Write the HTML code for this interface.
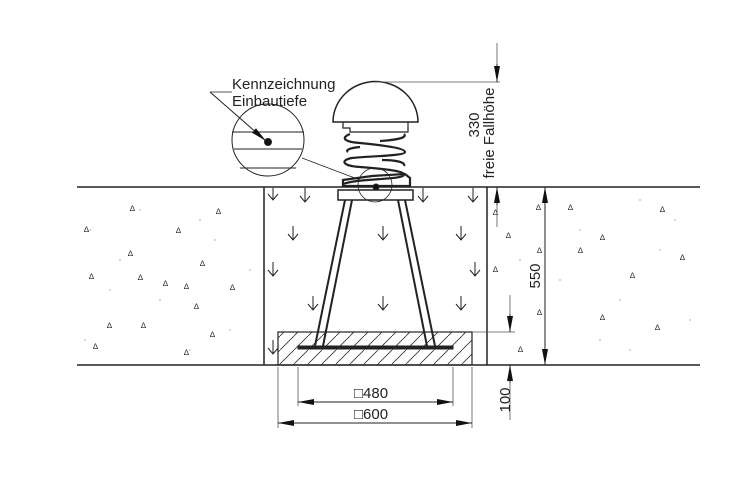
<!DOCTYPE html>
<html><head><style>body{margin:0;background:#fff}svg{display:block}text{font-family:"Liberation Sans",sans-serif;fill:#222}</style></head><body>
<svg width="750" height="479" viewBox="0 0 750 479" xmlns="http://www.w3.org/2000/svg">
<defs>
<marker id="a" viewBox="0 0 16 6" refX="16" refY="3" markerWidth="16" markerHeight="6" orient="auto-start-reverse" markerUnits="userSpaceOnUse"><path d="M0,0L16,3L0,6z" fill="#111"/></marker>
<pattern id="h" width="14" height="14" patternUnits="userSpaceOnUse"><path d="M0,14L14,0" stroke="#333" stroke-width="0.8"/></pattern>
</defs>
<g fill="#999">
<circle cx="90" cy="230" r=".7"/><circle cx="120" cy="260" r=".7"/><circle cx="160" cy="300" r=".7"/><circle cx="200" cy="220" r=".7"/><circle cx="230" cy="330" r=".7"/><circle cx="85" cy="340" r=".7"/><circle cx="140" cy="210" r=".7"/><circle cx="250" cy="270" r=".7"/><circle cx="580" cy="230" r=".7"/><circle cx="620" cy="300" r=".7"/><circle cx="660" cy="250" r=".7"/><circle cx="600" cy="340" r=".7"/><circle cx="520" cy="260" r=".7"/><circle cx="640" cy="200" r=".7"/><circle cx="690" cy="320" r=".7"/><circle cx="560" cy="280" r=".7"/><circle cx="110" cy="290" r=".7"/><circle cx="190" cy="350" r=".7"/><circle cx="215" cy="240" r=".7"/><circle cx="675" cy="220" r=".7"/><circle cx="630" cy="350" r=".7"/>
</g>
<g font-size="8" fill="#222">
<text x="84" y="232">∆</text><text x="130" y="211">∆</text><text x="128" y="256">∆</text><text x="176" y="233">∆</text><text x="216" y="214">∆</text><text x="200" y="266">∆</text><text x="89" y="279">∆</text><text x="138" y="280">∆</text><text x="163" y="286">∆</text><text x="184" y="289">∆</text><text x="230" y="290">∆</text><text x="107" y="328">∆</text><text x="141" y="328">∆</text><text x="194" y="309">∆</text><text x="210" y="337">∆</text><text x="93" y="349">∆</text><text x="184" y="355">∆</text><text x="493" y="215">∆</text><text x="506" y="238">∆</text><text x="493" y="272">∆</text><text x="536" y="210">∆</text><text x="537" y="253">∆</text><text x="537" y="315">∆</text><text x="518" y="352">∆</text><text x="568" y="210">∆</text><text x="600" y="320">∆</text><text x="630" y="278">∆</text><text x="660" y="212">∆</text><text x="655" y="330">∆</text><text x="578" y="253">∆</text><text x="600" y="240">∆</text><text x="680" y="260">∆</text>
</g>
<g stroke="#222" fill="none">
<line x1="77" y1="187" x2="700" y2="187" stroke-width="1.5"/>
<line x1="77" y1="365" x2="700" y2="365" stroke-width="1.5"/>
<line x1="264" y1="187" x2="264" y2="365" stroke-width="1.5"/>
<line x1="487" y1="187" x2="487" y2="365" stroke-width="1.5"/>
<rect x="278" y="332" width="194" height="33" fill="url(#h)" stroke-width="1.2"/>
<rect x="298" y="346" width="155" height="3" fill="#222"/>
<path d="M345,200L315,346M352,200L323,346M398,200L427,346M405,200L435,346" stroke-width="2"/>
<rect x="338" y="190" width="75" height="10" stroke-width="1.5"/>
<path d="M333,122A42,40 0 0 1 418,122Z" stroke-width="1.5"/>
<path d="M343,122V128H350V132H408V122" stroke-width="1.2"/>
<g stroke-width="2.2">
<path d="M350,134C340,138 345,142 360,143C380,145 405,148 405,152C405,156 370,156 352,158C340,160 342,166 360,167C385,169 405,171 404,175C402,180 360,178 343,184"/>
<path d="M404,134C408,138 395,140 380,141M348,152C345,150 350,148 360,147M404,166C406,162 395,160 382,160"/>
<path d="M343,186L343,180L372,176L405,174L410,178L410,186Z"/>
</g>
<circle cx="375" cy="185" r="17" stroke-width="0.8"/>
<circle cx="376" cy="187" r="3" fill="#111"/>
<circle cx="268" cy="140" r="36" stroke-width="1"/>
<path d="M232,132H304M234,149H302M240,168H296" stroke-width="1"/>
<circle cx="268" cy="142" r="3.5" fill="#111"/>
<path d="M210,92L266,141" stroke-width="1" marker-end="url(#a)"/>
<path d="M210,92H232" stroke-width="0.8"/>
<path d="M302,158L360,180" stroke-width="0.8"/>
<g stroke-width="1"><path d="M268,194l5,6l5,-6M273,188v12M268,270l5,6l5,-6M273,262v14M268,348l5,6l5,-6M273,340v14M288,234l5,6l5,-6M293,226v14M378,234l5,6l5,-6M383,226v14M456,234l5,6l5,-6M461,226v14M308,304l5,6l5,-6M313,296v14M378,304l5,6l5,-6M383,296v14M456,304l5,6l5,-6M461,296v14M418,196l5,6l5,-6M423,188v14M300,196l5,6l5,-6M305,188v14M468,196l5,6l5,-6M473,188v14M470,270l5,6l5,-6M475,262v14"/></g>
<g stroke-width="0.8" stroke="#555">
<path d="M375,82H500M497,43V82M497,187V227"/>
<path d="M472,332H515M510,295V332M510,365V420"/>
<path d="M278,367V428M472,367V428M298,367V406M453,367V406"/>
</g>
<g stroke-width="1">
<path d="M497,64V82" marker-end="url(#a)"/><path d="M497,205V187" marker-end="url(#a)"/>
<path d="M545,187V365" marker-start="url(#a)" marker-end="url(#a)"/>
<path d="M510,314V332" marker-end="url(#a)"/><path d="M510,383V365" marker-end="url(#a)"/>
<path d="M298,402H453" marker-start="url(#a)" marker-end="url(#a)"/>
<path d="M278,423H472" marker-start="url(#a)" marker-end="url(#a)"/>
</g>
</g>
<text x="232" y="89" font-size="15">Kennzeichnung</text>
<text x="232" y="106" font-size="15">Einbautiefe</text>
<text font-size="15" transform="translate(479,125) rotate(-90)" text-anchor="middle">330</text>
<text font-size="15" transform="translate(494,133) rotate(-90)" text-anchor="middle">freie Fallhöhe</text>
<text font-size="15" transform="translate(540,276) rotate(-90)" text-anchor="middle">550</text>
<text font-size="15" transform="translate(510,400) rotate(-90)" text-anchor="middle">100</text>
<text x="354" y="398" font-size="15">□480</text>
<text x="354" y="419" font-size="15">□600</text>
</svg>
</body></html>
